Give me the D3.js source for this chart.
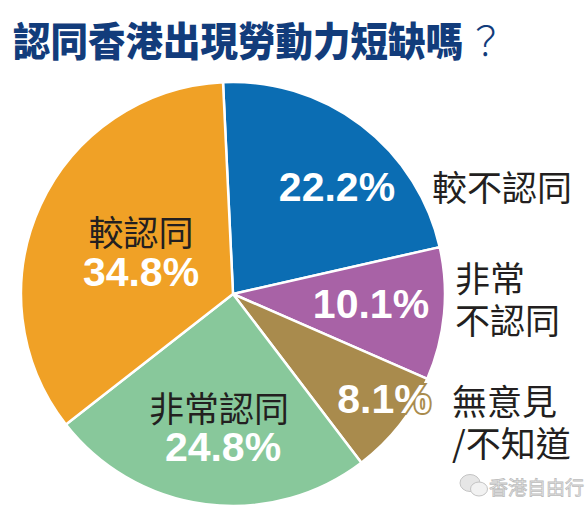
<!DOCTYPE html>
<html>
<head>
<meta charset="utf-8">
<script src="https://cdn.jsdelivr.net/npm/d3@7"></script>
<style>
  body { margin: 0; background: #fff; }
  svg { display: block; }
</style>
</head>
<body>
<div id="root"></div>
<script>
const width = 588;
const height = 510;

// survey answers, clockwise from the top
const categories = ["較不認同", "非常不認同", "無意見/不知道", "非常認同", "較認同"];
const values = [22.2, 10.1, 8.1, 24.8, 34.8];
const sliceColors = ["#0b6db3", "#a862a6", "#a98b4d", "#88c89b", "#f0a126"];

// how each category name is broken into lines on the chart
const nameLines = [["較不認同"], ["非常", "不認同"], ["無意見", "/不知道"], ["非常認同"], ["較認同"]];

// where the labels sit, relative to the pie centre
const pctSpots = [[104, -107], [138, 10], [151, 105], [-10, 153], [-92, -22]];
const nameSpots = [[199, -109], [222, -18], [219, 105], [-14, 112], [-92, -64]];
const nameInside = [false, false, false, true, true];

const title = "認同香港出現勞動力短缺嗎";

const cx = 233, cy = 294, radius = 212;
const startAngle = -2.7 * Math.PI / 180;

const cjk = "'Noto Sans CJK TC', 'Noto Sans CJK SC', sans-serif";

const svg = d3.select("#root")
  .append("svg")
  .attr("width", width)
  .attr("height", height);

// title
const t = svg.append("text")
  .attr("x", 13)
  .attr("y", 56)
  .attr("transform", "translate(0,-4) scale(1,1.07)")
  .style("font-family", cjk)
  .style("font-size", "37.5px")
  .style("fill", "#123c7b");
t.append("tspan").style("font-weight", 900).text(title);
t.append("tspan").attr("dx", 4).style("font-weight", 300).text("？");

const pie = d3.pie()
  .sort(null)
  .value(d => d)
  .startAngle(startAngle)
  .endAngle(startAngle + 2 * Math.PI);

const arc = d3.arc()
  .innerRadius(0)
  .outerRadius(radius);

const arcs = pie(values);

const g = svg.append("g")
  .attr("transform", `translate(${cx}, ${cy})`);

g.selectAll(".slice")
  .data(arcs).enter()
  .append("path")
    .attr("class", "slice")
    .attr("d", arc)
    .style("fill", (d, i) => sliceColors[i])
    .style("stroke", "#fff")
    .style("stroke-width", 2.5)
    .style("stroke-linejoin", "round");

// percentages
g.selectAll(".pct")
  .data(arcs).enter()
  .append("text")
    .attr("class", "pct")
    .attr("x", (d, i) => pctSpots[i][0])
    .attr("y", (d, i) => pctSpots[i][1])
    .attr("text-anchor", "middle")
    .attr("dominant-baseline", "central")
    .style("font-family", "'Liberation Sans', Arial, sans-serif")
    .style("font-weight", 700)
    .style("font-size", "41px")
    .style("fill", "#fff")
    .style("stroke", (d, i) => sliceColors[i])
    .style("stroke-width", 4)
    .style("paint-order", "stroke")
    .text(d => d.value.toFixed(1) + "%");

// category names, one text per line
categories.forEach((c, i) => {
  nameLines[i].forEach((line, k) => {
    g.append("text")
      .attr("x", nameSpots[i][0])
      .attr("y", nameSpots[i][1] + k * 42)
      .attr("text-anchor", nameInside[i] ? "middle" : "start")
      .attr("dominant-baseline", "central")
      .style("font-family", cjk)
      .style("font-weight", 400)
      .style("font-size", "35px")
      .style("fill", "#231f20")
      .text(line);
  });
});

// watermark
const wm = svg.append("g").attr("transform", "translate(460, 486)");
wm.append("ellipse")
  .attr("cx", 10).attr("cy", -3).attr("rx", 10).attr("ry", 8.5)
  .style("fill", "#e6e6e6").style("stroke", "#c4c4c4").style("stroke-width", 1);
wm.append("ellipse")
  .attr("cx", 19).attr("cy", 3).attr("rx", 8.5).attr("ry", 7)
  .style("fill", "#f2f2f2").style("stroke", "#c4c4c4").style("stroke-width", 1);
wm.append("text")
  .attr("x", 29)
  .attr("y", 0)
  .attr("dominant-baseline", "central")
  .style("font-family", cjk)
  .style("font-size", "19px")
  .style("fill", "#efefef")
  .style("stroke", "#bdbdbd")
  .style("stroke-width", 0.8)
  .text("香港自由行");
</script>
</body>
</html>
